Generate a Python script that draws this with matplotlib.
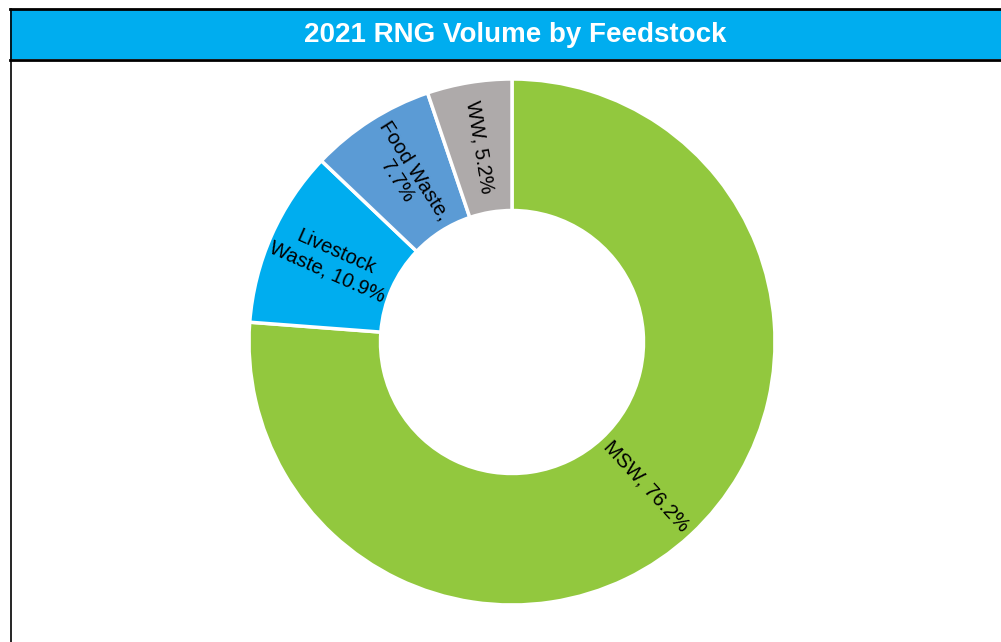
import matplotlib
matplotlib.use("Agg")
import matplotlib.pyplot as plt
from matplotlib.patches import Rectangle
import numpy as np

plt.rcParams['font.family'] = ['Liberation Sans', 'DejaVu Sans']

label_texts = ["MSW, 76.2%", "Livestock\nWaste, 10.9%", "Food Waste,\n7.7%", "WW, 5.2%"]
values = [76.2, 10.9, 7.7, 5.2]
colors = ["#92C83E", "#00ADEF", "#5B9BD5", "#AEAAAA"]
title = "2021 RNG Volume by Feedstock"

W, H = 1001, 642
fig = plt.figure(figsize=(W / 100, H / 100), dpi=100)

# frame and title bar
bg = fig.add_axes([0, 0, 1, 1])
bg.set_xlim(0, W)
bg.set_ylim(H, 0)
bg.axis('off')
bg.add_patch(Rectangle((10, 9), W, 50, facecolor="#00ADEF", edgecolor='none'))
bg.plot([10, W], [9, 9], color='black', lw=2)
bg.plot([10, W], [59.5, 59.5], color='black', lw=2)
bg.plot([10.5, 10.5], [9, H], color='black', lw=1.2)
bg.text(515, 35, title, color='white', fontsize=20, fontweight='bold',
        ha='center', va='center')

# donut
cx, cy, r = 512, 342, 263
ax = fig.add_axes([(cx - r) / W, (H - cy - r) / H, 2 * r / W, 2 * r / H])
wedges, _ = ax.pie(values, colors=colors, startangle=90, counterclock=False,
                   radius=1.0, wedgeprops=dict(width=0.5, edgecolor='white', linewidth=2.5))
ax.set_xlim(-1, 1)
ax.set_ylim(-1, 1)
ax.set_aspect('equal')
ax.axis('off')

for w, txt in zip(wedges, label_texts):
    mid = (w.theta1 + w.theta2) / 2.0
    rad = np.deg2rad(mid)
    x, y = 0.75 * np.cos(rad), 0.75 * np.sin(rad)
    rot = mid
    while rot > 180:
        rot -= 360
    while rot < -180:
        rot += 360
    if rot > 90:
        rot -= 180
    elif rot < -90:
        rot += 180
    ax.text(x, y, txt, rotation=rot, rotation_mode='anchor', ha='center', va='center',
            fontsize=14.5, color='black', linespacing=1.15, multialignment='center')

fig.savefig("out.png", dpi=100)
